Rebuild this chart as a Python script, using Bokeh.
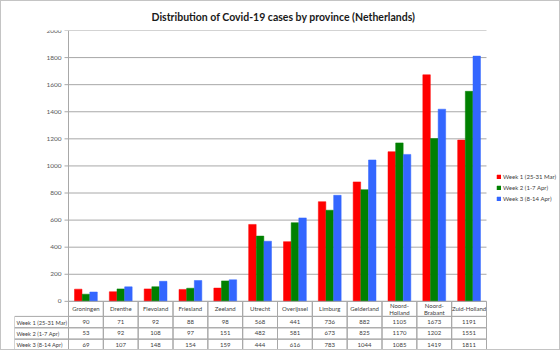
from bokeh.plotting import figure
from bokeh.models import Range1d, Legend, LegendItem
from bokeh.core.properties import value
from bokeh.embed import file_html
from bokeh.resources import INLINE

provinces = ["Groningen", "Drenthe", "Flevoland", "Friesland", "Zeeland", "Utrecht",
             "Overijssel", "Limburg", "Gelderland", "Noord-Holland", "Noord-Brabant",
             "Zuid-Holland"]
header_labels = ["Groningen", "Drenthe", "Flevoland", "Friesland", "Zeeland", "Utrecht",
                 "Overijssel", "Limburg", "Gelderland", "Noord-\nHolland", "Noord-\nBrabant",
                 "Zuid-Holland"]
series_names = ["Week 1 (25-31 Mar)", "Week 2 (1-7 Apr)", "Week 3 (8-14 Apr)"]
week1 = [90, 71, 92, 88, 98, 568, 441, 736, 882, 1105, 1673, 1191]
week2 = [53, 92, 108, 97, 151, 482, 581, 673, 825, 1170, 1202, 1551]
week3 = [69, 107, 148, 154, 159, 444, 616, 783, 1044, 1085, 1419, 1811]
y_ticks = list(range(0, 2001, 200))

colors = ["#ff0000", "#008000", "#3366ff"]
FONT = "Lato"
GRID = "#a8a8a8"
TXT = "#404040"
SMALL = "6px"

n = len(provinces)
# layout in pixels
chart_px_w = 418.0          # width of the category area
chart_px_h = 270.0          # height of the 0..2000 value area
label_px_w = 54.0           # row-label column of the table
legend_px_w = 74.0          # room right of the chart for the legend
hdr_px_h = 15.0
row_px_h = 11.33
cat_px = chart_px_w / n
ymax = 2000.0
k = ymax / chart_px_h       # data units per pixel (vertical)
lab_w = label_px_w / cat_px
table_h = (hdr_px_h + 3 * row_px_h) * k

p = figure(x_range=Range1d(-lab_w, n + legend_px_w / cat_px), y_range=Range1d(-table_h, ymax),
           width=560, height=350, output_backend="svg", toolbar_location=None,
           x_axis_type=None, y_axis_type=None,
           min_border_left=13, min_border_right=1, min_border_top=29, min_border_bottom=1,
           title="Distribution of Covid-19 cases by province (Netherlands)")
p.title.align = "left"
p.title.offset = 137
p.title.text_font = FONT
p.title.text_font_size = "10.5px"
p.title.text_font_style = "bold"
p.title.text_color = "#1a1a1a"
p.title.standoff = 15
p.outline_line_color = None
p.xgrid.grid_line_color = None
p.ygrid.grid_line_color = None
p.styles = {"border": "1px solid #c4c4c4", "box-sizing": "border-box"}

# gridlines, axis line, ticks and tick labels
p.segment(x0=0, x1=n, y0=y_ticks, y1=y_ticks, line_color=GRID, line_width=1)
p.segment(x0=0, x1=0, y0=0, y1=ymax, line_color=GRID, line_width=1)
p.segment(x0=-4 / cat_px, x1=0, y0=y_ticks, y1=y_ticks, line_color=GRID, line_width=1)
p.text(x=0, y=y_ticks, text=[str(v) for v in y_ticks], x_offset=-7,
       text_align="right", text_baseline="middle", text_font_size="6.5px",
       text_color="#595959", text_font=value(FONT))

# bars
renderers = []
for off, vals, c in zip([-0.22, 0.0, 0.22], [week1, week2, week3], colors):
    xs = [i + 0.5 + off for i in range(n)]
    r = p.vbar(x=xs, top=vals, width=0.215,
               fill_color=c, line_color=c, line_width=0.5)
    renderers.append(r)

legend = Legend(items=[LegendItem(label=s, renderers=[r]) for s, r in zip(series_names, renderers)],
                location=(482, 148), background_fill_alpha=0, border_line_color=None,
                label_text_font=FONT, label_text_font_size=SMALL, label_text_color=TXT,
                glyph_width=5, glyph_height=5, label_standoff=2, spacing=3,
                label_height=8, padding=0, margin=0)
p.add_layout(legend)

# ---------- data table ----------
idx = list(range(n))
hdr_top = 0.0
hdr_bot = -hdr_px_h * k
row_h = row_px_h * k
p.quad(left=idx, right=[i + 1 for i in idx], top=hdr_top, bottom=hdr_bot,
       fill_color=None, line_color=GRID, line_width=1)
p.text(x=[i + 0.5 for i in idx], y=(hdr_top + hdr_bot) / 2, text=header_labels,
       text_align="center", text_baseline="middle", text_font_size=SMALL,
       text_color=TXT, text_line_height=1.1, text_font=value(FONT))
for j, vals in enumerate([week1, week2, week3]):
    top = hdr_bot - j * row_h
    bot = top - row_h
    p.quad(left=[-lab_w] + idx, right=[0] + [i + 1 for i in idx], top=top, bottom=bot,
           fill_color=None, line_color=GRID, line_width=1)
    p.text(x=[i + 0.5 for i in idx], y=(top + bot) / 2, text=[str(v) for v in vals],
           text_align="center", text_baseline="middle", text_font_size=SMALL,
           text_color=TXT, text_font=value(FONT))
    p.text(x=[-lab_w], y=[(top + bot) / 2], text=[series_names[j]], x_offset=2,
           text_align="left", text_baseline="middle", text_font_size="5.7px",
           text_color=TXT, text_font=value(FONT))

open("out.html", "w").write(file_html(p, INLINE))
